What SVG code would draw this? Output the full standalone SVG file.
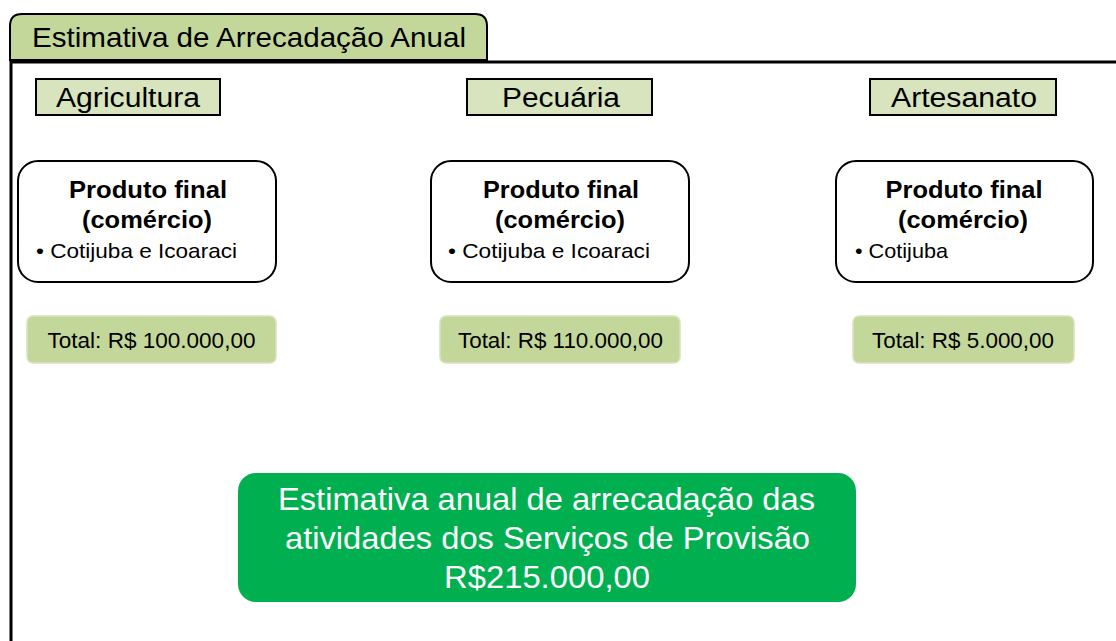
<svg xmlns="http://www.w3.org/2000/svg" width="1116" height="641" viewBox="0 0 1116 641">
<style>
text{font-family:"Liberation Sans",Arial,sans-serif;fill:#000}
.cat{fill:#d7e4bd;stroke:#000;stroke-width:2}
.prod{fill:#fff;stroke:#000;stroke-width:2}
.tot{fill:#c4d79b;stroke:#d7e4bd;stroke-width:1.5}
.ct{font-size:27px;text-anchor:middle}
.pt{font-size:24px;font-weight:bold;text-anchor:middle}
.bt{font-size:21px}
.tt{font-size:21.5px;text-anchor:middle}
.gt{font-size:31.5px;text-anchor:middle;fill:#fff}
</style>
<rect width="1116" height="641" fill="#fff"/>
<g id="frame">
<path d="M10,60 V26 Q10,14 22,14 H475 Q487,14 487,26 V60 Z" fill="#c4d79b" stroke="#000" stroke-width="2"/>
<text x="249" y="47" style="font-size:28px" text-anchor="middle" textLength="434" lengthAdjust="spacingAndGlyphs">Estimativa de Arrecadação Anual</text>
<path d="M11,641 V62 H1116" fill="none" stroke="#000" stroke-width="3"/>
</g>
<g id="agricultura">
<rect class="cat" x="36" y="79" width="184" height="36"/>
<text class="ct" x="128" y="107" textLength="144" lengthAdjust="spacingAndGlyphs">Agricultura</text>
</g>
<g id="pecuaria">
<rect class="cat" x="467" y="79" width="185" height="36"/>
<text class="ct" x="561" y="107" textLength="118" lengthAdjust="spacingAndGlyphs">Pecuária</text>
</g>
<g id="artesanato">
<rect class="cat" x="870" y="79" width="186" height="36"/>
<text class="ct" x="964" y="107" textLength="146" lengthAdjust="spacingAndGlyphs">Artesanato</text>
</g>
<g id="prod-agri">
<rect class="prod" x="18" y="161" width="258" height="121" rx="20"/>
<text class="pt" x="148" y="198" textLength="158" lengthAdjust="spacingAndGlyphs">Produto final</text>
<text class="pt" x="147" y="228" textLength="130" lengthAdjust="spacingAndGlyphs">(comércio)</text>
<text class="bt" x="36" y="258" textLength="201" lengthAdjust="spacingAndGlyphs">• Cotijuba e Icoaraci</text>
</g>
<g id="prod-pec">
<rect class="prod" x="431" y="161" width="258" height="121" rx="20"/>
<text class="pt" x="561" y="198" textLength="156" lengthAdjust="spacingAndGlyphs">Produto final</text>
<text class="pt" x="560" y="228" textLength="130" lengthAdjust="spacingAndGlyphs">(comércio)</text>
<text class="bt" x="448" y="258" textLength="202" lengthAdjust="spacingAndGlyphs">• Cotijuba e Icoaraci</text>
</g>
<g id="prod-art">
<rect class="prod" x="836" y="161" width="257" height="121" rx="20"/>
<text class="pt" x="964" y="198" textLength="157" lengthAdjust="spacingAndGlyphs">Produto final</text>
<text class="pt" x="963" y="228" textLength="130" lengthAdjust="spacingAndGlyphs">(comércio)</text>
<text class="bt" x="855" y="258" textLength="93" lengthAdjust="spacingAndGlyphs">• Cotijuba</text>
</g>
<g id="total-agri">
<rect class="tot" x="27" y="316" width="249" height="47" rx="6"/>
<text class="tt" x="151.5" y="348" textLength="208" lengthAdjust="spacingAndGlyphs">Total: R$ 100.000,00</text>
</g>
<g id="total-pec">
<rect class="tot" x="440" y="316" width="240" height="47" rx="6"/>
<text class="tt" x="560.5" y="348" textLength="205" lengthAdjust="spacingAndGlyphs">Total: R$ 110.000,00</text>
</g>
<g id="total-art">
<rect class="tot" x="853" y="316" width="221" height="47" rx="6"/>
<text class="tt" x="963" y="348" textLength="182" lengthAdjust="spacingAndGlyphs">Total: R$ 5.000,00</text>
</g>
<g id="estimativa">
<rect x="238" y="473" width="618" height="129" rx="18" fill="#00b050"/>
<text class="gt" x="546.5" y="510" textLength="537" lengthAdjust="spacingAndGlyphs">Estimativa anual de arrecadação das</text>
<text class="gt" x="547.5" y="549" textLength="525" lengthAdjust="spacingAndGlyphs">atividades dos Serviços de Provisão</text>
<text class="gt" x="547" y="588" textLength="206" lengthAdjust="spacingAndGlyphs">R$215.000,00</text>
</g>
<g id="connectors"></g>
</svg>
